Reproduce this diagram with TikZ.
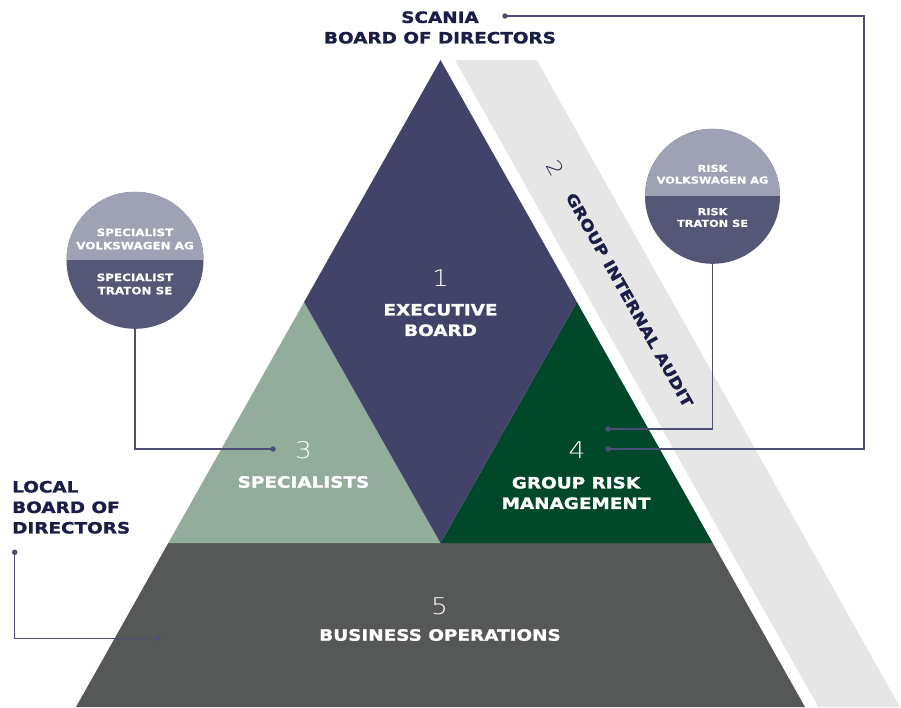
\documentclass[tikz,border=0pt]{standalone}
\usepackage{fontspec}
\setmainfont{DejaVu Sans}
\newfontfamily\lblfont{DejaVu Sans}[FakeStretch=1.18, FakeBold=1.2]
\newfontfamily\smlfont{DejaVu Sans}[FakeStretch=1.18, FakeBold=0.8]
\IfFontExistsTF{DejaVu Sans ExtraLight}
  {\newfontfamily\numfont{DejaVu Sans ExtraLight}[FakeStretch=1.15]}
  {\newfontfamily\numfont{DejaVu Sans}[FakeStretch=1.15]}
\definecolor{execc}{HTML}{414468}
\definecolor{sagec}{HTML}{93AD9C}
\definecolor{dgreen}{HTML}{01472A}
\definecolor{opsc}{HTML}{565857}
\definecolor{bandc}{HTML}{E6E6E6}
\definecolor{ctop}{HTML}{9FA1B4}
\definecolor{cbot}{HTML}{545876}
\definecolor{navy}{HTML}{1A1D45}
\definecolor{linec}{HTML}{4B4F78}
\begin{document}
\begin{tikzpicture}[x=1pt,y=-1pt,
  lbl/.style={font=\lblfont\bfseries\fontsize{15.6}{20.5}\selectfont, text=white, align=center, inner sep=0pt},
  navylbl/.style={lbl, text=navy},
  numlbl/.style={font=\numfont\fontsize{23}{23}\selectfont, text=white, inner sep=0pt},
  ctext/.style={font=\smlfont\bfseries\fontsize{10.1}{13.2}\selectfont, text=white, align=center, inner sep=0pt},
  rtext/.style={font=\smlfont\bfseries\fontsize{9.6}{11.7}\selectfont, text=white, align=center, inner sep=0pt},
  twocirc/.style={circle, inner sep=0pt, fill=cbot,
    path picture={\fill[ctop] (path picture bounding box.north west) rectangle (path picture bounding box.east);}},
  conn/.style={draw=linec, line width=1.2pt},
  dotc/.style={circle, fill=linec, inner sep=0pt, minimum size=5.5pt}]
\useasboundingbox (0,0) rectangle (901,707);
% band
\fill[bandc] (455,60) -- (536.7,60) -- (900,707) -- (818.3,707) -- cycle;
% pyramid levels
\fill[opsc] (168.3,543) -- (712.7,543) -- (805,707) -- (76,707) -- cycle;
\fill[sagec] (304.1,302) -- (440.5,543) -- (168.3,543) -- cycle;
\fill[dgreen] (576.9,302) -- (712.7,543) -- (440.5,543) -- cycle;
\fill[execc] (440.5,60) -- (576.9,302) -- (440.5,543) -- (304.1,302) -- cycle;
% band text
\node[navylbl, font=\lblfont\bfseries\fontsize{15}{15}\selectfont, rotate=-60.68] (gia) at (629.5,300) {GROUP INTERNAL AUDIT};
\node[numlbl, text=navy, font=\numfont\fontsize{20}{20}\selectfont, rotate=-60.68] (n2) at (555.5,168.3) {2};
% pyramid labels
\node[numlbl] (n1) at (440.5,278) {1};
\node[lbl] (l1) at (440.5,320) {EXECUTIVE\\BOARD};
\node[numlbl] (n3) at (303.5,450) {3};
\node[lbl] (l3) at (303.5,482) {SPECIALISTS};
\node[numlbl] (n4) at (577,450) {4};
\node[lbl] (l4) at (576,493) {GROUP RISK\\MANAGEMENT};
\node[numlbl] (n5) at (439.5,606) {5};
\node[lbl] (l5) at (440,635) {BUSINESS OPERATIONS};
% outside labels
\node[navylbl] (scania) at (440,27.5) {SCANIA\\BOARD OF DIRECTORS};
\node[navylbl, align=left, anchor=west] (local) at (12,507.3) {LOCAL\\BOARD OF\\DIRECTORS};
% circles
\node[twocirc, minimum size=137pt] (lc) at (135,260.3) {};
\node[ctext] (lct) at (135,239) {SPECIALIST\\VOLKSWAGEN AG};
\node[ctext] (lcb) at (135,284) {SPECIALIST\\TRATON SE};
\node[twocirc, minimum size=135pt] (rc) at (712.5,196.3) {};
\node[rtext] (rct) at (712.5,174.2) {RISK\\VOLKSWAGEN AG};
\node[rtext] (rcb) at (712.5,217.5) {RISK\\TRATON SE};
% connectors
\node[dotc] (d3) at (273,449) {};
\node[dotc] (d4a) at (608,429) {};
\node[dotc] (d4b) at (608,449) {};
\node[dotc] (ds) at (505,16) {};
\node[dotc] (dl) at (14.7,552.3) {};
\node[dotc] (dl2) at (158,638.3) {};
\coordinate (kR) at (864,449);
\draw[conn] (lc.south) |- (d3.center);
\draw[conn] (rc.south) |- (d4a.center);
\draw[conn] (ds.center) -| (kR) -- (d4b.center);
\draw[conn] (dl.center) |- (dl2.center);
\end{tikzpicture}
\end{document}
